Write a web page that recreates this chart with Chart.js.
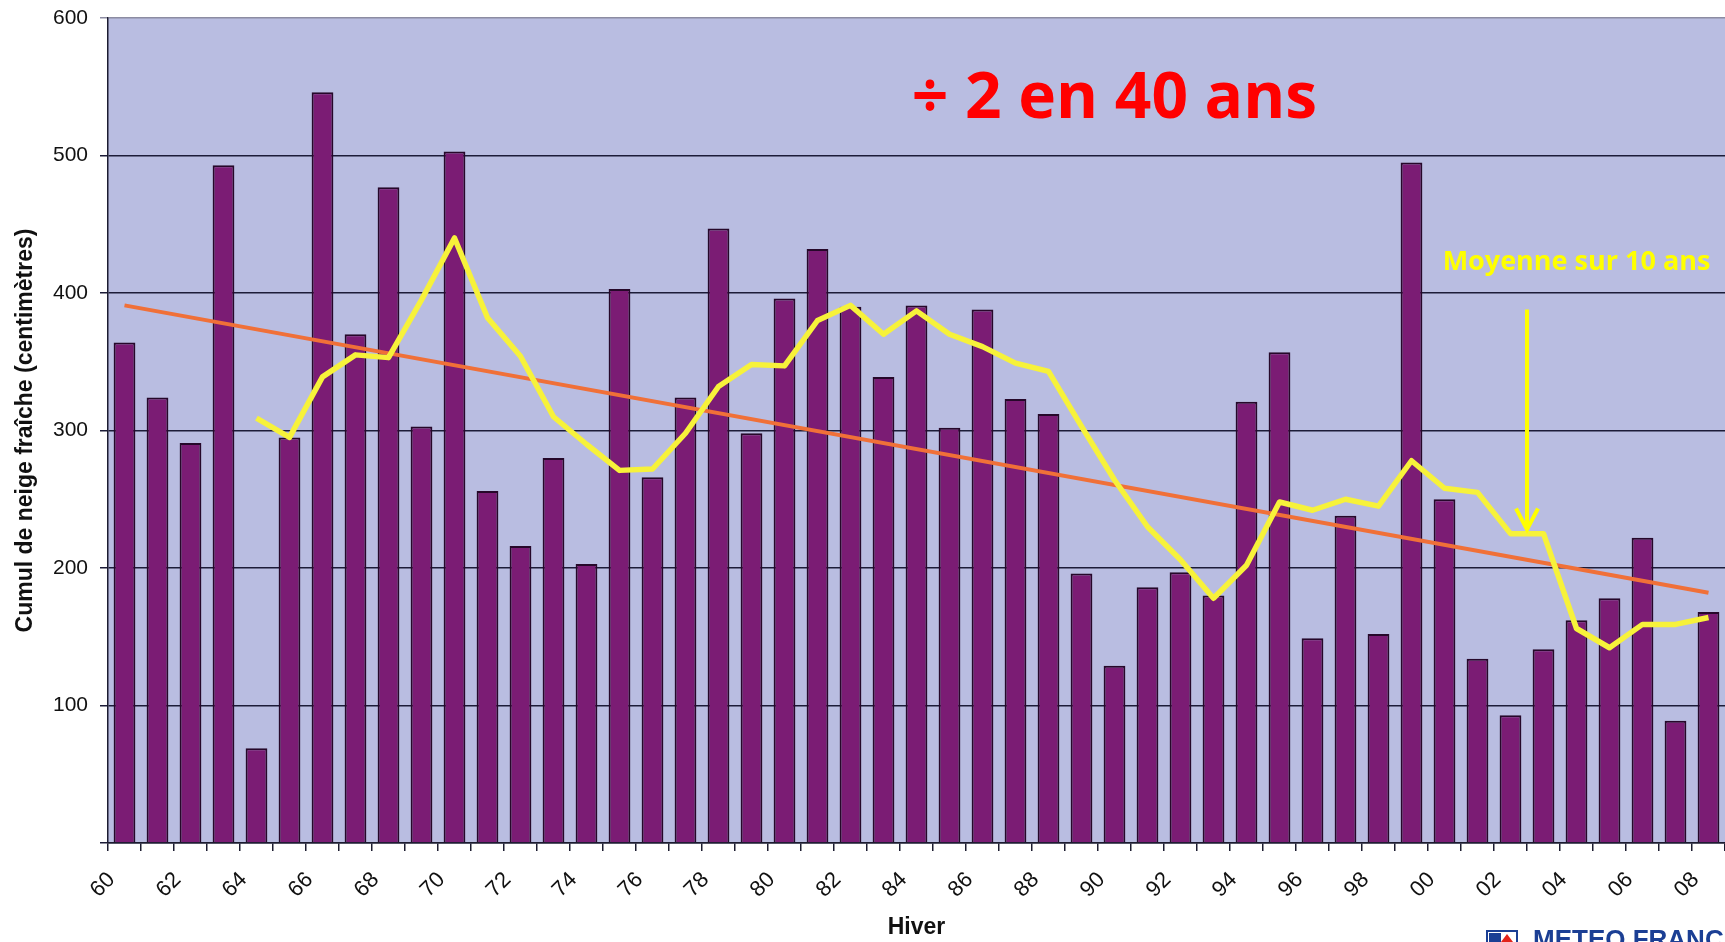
<!DOCTYPE html>
<html>
<head>
<meta charset="utf-8">
<title>Cumul de neige fraîche</title>
<script src="https://cdn.jsdelivr.net/npm/chart.js@4.4.1/dist/chart.umd.min.js"></script>
<style>
    html, body { margin: 0; padding: 0; background: #ffffff; }
    #wrap { width: 1725px; height: 942px; }
</style>
</head>
<body>
<div id="wrap"><canvas id="snowChart" width="1725" height="942"></canvas></div>
<script>
// winters 1960 -> 2008, two-digit labels as on the axis
const winters = [
    '60', '61', '62', '63', '64', '65', '66', '67', '68', '69',
    '70', '71', '72', '73', '74', '75', '76', '77', '78', '79',
    '80', '81', '82', '83', '84', '85', '86', '87', '88', '89',
    '90', '91', '92', '93', '94', '95', '96', '97', '98', '99',
    '00', '01', '02', '03', '04', '05', '06', '07', '08',
];

// cumul de neige fraîche (cm)
const snowfall = [
    364, 324, 291, 493, 69, 295, 546, 370, 477, 303,
    503, 256, 216, 280, 203, 403, 266, 324, 447, 298,
    396, 432, 390, 339, 391, 302, 388, 323, 312, 196,
    129, 186, 197, 180, 321, 357, 149, 238, 152, 495,
    250, 134, 93, 141, 162, 178, 222, 89, 168,
];

// moyenne sur 10 ans (yellow line), starts in 64
const movingAverage = [
    null, null, null, null, 309, 295, 339, 355, 353, 395,
    440, 382, 354, 310, 290, 271, 272, 298, 332, 348,
    347, 380, 391, 370, 387, 370, 361, 349, 343, 303,
    264, 230, 206, 178, 202, 248, 242, 250, 245, 278,
    258, 255, 225, 225, 156, 142, 159, 159, 164,
];

// linear trend: value at first and last winter only
const trendStart = 391;
const trendEnd = 182;
const trend = winters.map((w, i) => {
    if (i === 0) return trendStart;
    if (i === winters.length - 1) return trendEnd;
    return null;
});

const yTicks = [0, 100, 200, 300, 400, 500, 600];

const headline = '÷ 2 en 40 ans';
const averageNote = 'Moyenne sur 10 ans';

const plotBackground = {
    id: 'plotBackground',
    beforeDraw(chart) {
        const { ctx, chartArea } = chart;
        ctx.save();
        ctx.fillStyle = '#b9bde1';
        ctx.fillRect(chartArea.left, chartArea.top, chartArea.right - chartArea.left, chartArea.bottom - chartArea.top);
        ctx.restore();
    },
};

const notes = {
    id: 'notes',
    afterDatasetsDraw(chart) {
        const { ctx } = chart;
        const x = chart.scales.x;
        const y = chart.scales.y;
        ctx.save();
        ctx.textAlign = 'center';
        ctx.textBaseline = 'alphabetic';

        ctx.fillStyle = '#ff0000';
        ctx.font = 'bold 64px "Open Sans"';
        ctx.fillText(headline, x.getPixelForValue(30), y.getPixelForValue(527));

        ctx.fillStyle = '#ffff00';
        ctx.font = 'bold 27px "Open Sans"';
        ctx.fillText(averageNote, x.getPixelForValue(44), y.getPixelForValue(417));

        // arrow down to the 10-year mean
        const ax = (x.getPixelForValue(42) + x.getPixelForValue(43)) / 2;
        const top = y.getPixelForValue(388);
        const tip = y.getPixelForValue(228);
        ctx.strokeStyle = '#ffff00';
        ctx.lineWidth = 4;
        ctx.beginPath();
        ctx.moveTo(ax, top);
        ctx.lineTo(ax, tip);
        ctx.stroke();
        ctx.beginPath();
        ctx.moveTo(ax - 11, tip - 21);
        ctx.lineTo(ax, tip);
        ctx.lineTo(ax + 11, tip - 21);
        ctx.stroke();
        ctx.restore();
    },
    afterDraw(chart) {
        // bottom-right logo, cut by the frame
        const { ctx, width, height } = chart;
        ctx.save();
        ctx.strokeStyle = '#1b3f94';
        ctx.lineWidth = 2;
        ctx.strokeRect(width - 238, height - 11, 30, 20);
        ctx.fillStyle = '#1b3f94';
        ctx.fillRect(width - 236, height - 9, 12, 16);
        ctx.fillStyle = '#e2231a';
        ctx.beginPath();
        ctx.moveTo(width - 218, height - 8);
        ctx.lineTo(width - 212, height);
        ctx.lineTo(width - 224, height);
        ctx.fill();
        ctx.fillStyle = '#1b3f94';
        ctx.font = 'bold 26px "Liberation Sans"';
        ctx.textAlign = 'left';
        ctx.textBaseline = 'top';
        ctx.fillText('METEO FRANCE', width - 192, height - 14);
        ctx.restore();
    },
};

new Chart(document.getElementById('snowChart'), {
    data: {
        labels: winters,
        datasets: [
            {
                type: 'line',
                label: 'Moyenne sur 10 ans',
                data: movingAverage,
                borderColor: '#f7f23a',
                borderWidth: 5.5,
                pointRadius: 0,
                tension: 0,
                borderJoinStyle: 'round',
                spanGaps: false,
                order: 0,
            },
            {
                type: 'line',
                label: 'Tendance',
                data: trend,
                borderColor: '#f07038',
                borderWidth: 4,
                pointRadius: 0,
                tension: 0,
                spanGaps: true,
                order: 1,
            },
            {
                type: 'bar',
                label: 'Cumul',
                data: snowfall,
                backgroundColor: '#7b1c74',
                borderColor: '#26082a',
                borderWidth: 2,
                barPercentage: 0.66,
                categoryPercentage: 1,
                order: 2,
            },
        ],
    },
    options: {
        responsive: false,
        animation: false,
        devicePixelRatio: 1,
        layout: {
            padding: { top: 18, right: 0, bottom: 0, left: 0 },
        },
        plugins: {
            legend: { display: false },
            tooltip: { enabled: false },
        },
        scales: {
            x: {
                offset: true,
                grid: {
                    offset: true,
                    drawOnChartArea: false,
                    drawTicks: true,
                    tickLength: 8,
                    color: '#1c1c30',
                    lineWidth: 1.5,
                },
                border: { color: '#1c1c30', width: 1.5 },
                ticks: {
                    autoSkip: false,
                    minRotation: 45,
                    maxRotation: 45,
                    labelOffset: -13,
                    padding: 16,
                    color: '#111111',
                    font: { family: '"Liberation Sans", Arial', size: 22 },
                    callback: (value, index) => (index % 2 === 0 ? winters[index] : ''),
                },
                title: {
                    display: true,
                    text: 'Hiver',
                    color: '#111111',
                    font: { family: '"Liberation Sans", Arial', size: 23, weight: 'bold' },
                    padding: { top: 0, bottom: 1 },
                },
                afterFit(scale) {
                    scale.height = 99;
                    scale.paddingLeft = 0;
                    scale.paddingRight = 0;
                },
            },
            y: {
                min: 0,
                max: 600,
                afterBuildTicks(scale) {
                    scale.ticks = yTicks.map(v => ({ value: v }));
                },
                grid: {
                    color: ctx => (ctx.tick && ctx.tick.value === 600 ? '#8c8ca2' : '#1c1c38'),
                    lineWidth: 1.5,
                    tickLength: 8,
                },
                border: { color: '#1c1c30', width: 1.5 },
                ticks: {
                    padding: 12,
                    color: '#111111',
                    font: { family: '"Liberation Sans", Arial', size: 21 },
                    callback: value => (value === 0 ? '' : String(value)),
                },
                title: {
                    display: true,
                    text: 'Cumul de neige fraîche (centimètres)',
                    color: '#111111',
                    font: { family: '"Liberation Sans", Arial', size: 23, weight: 'bold' },
                    padding: { top: 12, bottom: 0 },
                },
                afterFit(scale) {
                    scale.width = 108;
                    scale.paddingTop = 0;
                    scale.paddingBottom = 0;
                },
            },
        },
    },
    plugins: [plotBackground, notes],
});
</script>
</body>
</html>
